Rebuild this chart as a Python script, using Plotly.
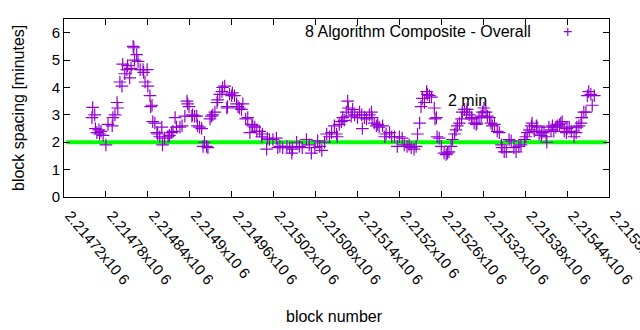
import plotly.graph_objects as go

BASE = 2214720
# block offsets (block number - 2214720) and block spacing in minutes
block_offset = [41, 40, 44, 45, 47, 50, 51, 53, 56, 60, 63, 69, 70, 73, 76, 77, 80, 83, 84, 87,
                90, 91, 94, 96, 99, 100, 101, 104, 106, 109, 113, 114, 116, 119, 120, 123, 124, 126, 127, 130,
                133, 134, 137, 140, 141, 144, 149, 151, 154, 156, 159, 161, 166, 169, 173, 176, 177, 179, 183, 184,
                187, 190, 191, 194, 197, 199, 201, 204, 206, 209, 211, 213, 216, 219, 220, 223, 226, 227, 230, 233,
                234, 237, 240, 241, 244, 247, 249, 251, 254, 256, 260, 263, 266, 269, 270, 273, 276, 280, 283, 284,
                290, 291, 294, 299, 304, 306, 309, 313, 319, 323, 326, 327, 333, 337, 341, 347, 351, 354, 359, 363,
                366, 369, 373, 376, 380, 383, 387, 390, 391, 394, 397, 399, 401, 404, 406, 407, 411, 413, 416, 420,
                423, 426, 427, 430, 433, 437, 440, 441, 444, 447, 449, 451, 456, 459, 461, 466, 469, 473, 477, 480,
                484, 487, 491, 494, 497, 501, 504, 506, 509, 511, 513, 516, 519, 520, 523, 526, 530, 531, 533, 534,
                537, 540, 544, 547, 549, 551, 554, 556, 559, 561, 563, 566, 569, 570, 573, 576, 577, 580, 583, 584,
                587, 590, 591, 594, 597, 599, 601, 604, 606, 609, 611, 613, 616, 620, 623, 626, 627, 630, 633, 637,
                640, 644, 647, 651, 654, 659, 661, 663, 666, 669, 670, 673, 676, 677, 680, 683, 684, 687, 690, 691,
                694, 697, 699, 701, 704, 706, 709, 711, 713, 716, 719, 720, 723, 726, 730, 733, 734, 737, 740, 741,
                744, 747, 749, 751, 754, 756, 759]
spacing_min = [3.27, 2.9, 3.0, 2.5, 2.35, 2.45, 2.3, 2.4, 2.25, 1.9, 2.65, 2.6, 2.9, 3.0, 3.45, 3.25, 4.2, 4.05, 4.85, 4.5,
               4.65, 4.8, 4.35, 4.7, 5.5, 5.45, 5.0, 5.2, 4.95, 4.65, 4.65, 4.55, 4.2, 4.65, 4.05, 3.7, 3.3, 3.35, 2.75, 2.7,
               2.35, 2.3, 2.2, 2.55, 1.9, 2.15, 2.2, 2.25, 2.35, 2.4, 2.9, 2.55, 2.55, 2.6, 2.95, 3.5, 3.4, 3.3, 2.95, 3.0,
               2.95, 2.95, 2.6, 2.55, 2.5, 1.85, 2.0, 1.85, 1.8, 2.85, 2.95, 3.0, 3.1, 3.45, 3.55, 3.75, 3.85, 4.0, 4.05, 3.25,
               3.3, 3.75, 3.7, 3.8, 3.7, 3.4, 3.3, 3.25, 3.2, 3.4, 2.85, 2.9, 2.35, 2.65, 2.6, 2.55, 2.4, 2.4, 2.2, 2.3,
               1.75, 2.15, 2.1, 2.1, 2.15, 1.8, 1.85, 1.8, 1.85, 1.8, 1.6, 1.75, 2.0, 1.85, 1.8, 2.1, 1.9, 1.6, 1.8, 2.05,
               1.85, 1.7, 2.0, 2.3, 2.2, 2.35, 2.6, 2.3, 2.2, 2.65, 2.75, 2.9, 2.8, 3.1, 3.5, 3.25, 2.95, 3.2, 3.0, 2.9,
               3.1, 3.0, 2.5, 2.9, 2.85, 3.0, 3.1, 2.9, 2.7, 2.6, 2.65, 2.55, 2.6, 2.2, 2.3, 2.35, 2.2, 2.2, 1.85, 2.2,
               2.15, 1.9, 1.85, 1.9, 1.8, 1.75, 1.85, 2.3, 2.7, 3.3, 3.6, 3.45, 3.85, 3.75, 3.7, 3.65, 3.25, 2.85, 2.9, 2.2,
               2.15, 1.85, 1.6, 1.55, 1.6, 1.65, 1.85, 2.1, 2.3, 2.45, 2.6, 2.7, 2.85, 3.1, 3.2, 3.1, 3.2, 3.0, 2.9, 2.85,
               2.7, 2.65, 2.7, 2.9, 2.95, 3.1, 3.25, 3.1, 2.95, 2.9, 2.7, 2.6, 2.65, 2.4, 2.35, 1.9, 1.8, 1.65, 1.65, 2.1,
               2.05, 1.8, 1.65, 1.85, 1.9, 2.1, 2.2, 2.35, 2.45, 2.6, 2.7, 2.4, 2.6, 2.55, 2.3, 2.25, 2.35, 2.4, 2.2, 2.0,
               2.55, 2.45, 2.6, 2.4, 2.55, 2.6, 2.65, 2.7, 2.75, 2.4, 2.35, 2.5, 2.55, 2.4, 2.2, 2.35, 2.55, 2.6, 2.7, 2.9,
               3.1, 3.1, 3.7, 3.85, 3.75, 3.35, 3.7]
blocks = [BASE + o for o in block_offset]

tick_vals = [BASE + 60 * i for i in range(14)]
tick_text = ["2.21472x10 6", "2.21478x10 6", "2.21484x10 6", "2.2149x10 6", "2.21496x10 6",
             "2.21502x10 6", "2.21508x10 6", "2.21514x10 6", "2.2152x10 6", "2.21526x10 6",
             "2.21532x10 6", "2.21538x10 6", "2.21544x10 6", "2.2155x10 6"]
target_minutes = 2
x_min, x_max = BASE, BASE + 780

FONT = "Liberation Sans, Arial, sans-serif"
FS = 16
TFS = 15
PURPLE = "#9400d3"
PW, PH = 545, 178  # plot area size in px

fig = go.Figure()
fig.add_trace(go.Scatter(
    x=[x_min + 3, x_max - 3], y=[target_minutes, target_minutes], mode="lines",
    line=dict(color="#00ff00", width=4), showlegend=False, hoverinfo="skip"))
fig.add_trace(go.Scatter(
    x=blocks, y=spacing_min, mode="markers",
    marker=dict(symbol="cross-thin", size=9, color=PURPLE, line=dict(color=PURPLE, width=1.2)),
    showlegend=False))

fig.add_annotation(xref="paper", yref="paper", x=(533 - 64) / PW, y=(197 - 32) / PH,
                   text="8 Algorithm Composite - Overall", showarrow=False,
                   xanchor="right", yanchor="middle", font=dict(family=FONT, size=FS, color="#000"))
fig.add_annotation(xref="paper", yref="paper", x=(567 - 64) / PW, y=(197 - 32) / PH,
                   text="+", showarrow=False, xanchor="center", yanchor="middle",
                   font=dict(family=FONT, size=FS, color=PURPLE))
fig.add_annotation(x=BASE + 547, y=3.53, text="2 min", showarrow=False,
                   xanchor="left", yanchor="middle", font=dict(family=FONT, size=FS, color="#000"))
fig.add_annotation(xref="paper", yref="paper", x=(18 - 64) / PW, y=(197 - 108) / PH,
                   text="block spacing [minutes]", textangle=-90, showarrow=False,
                   xanchor="center", yanchor="middle", font=dict(family=FONT, size=FS, color="#000"))
fig.add_annotation(xref="paper", yref="paper", x=(334 - 64) / PW, y=(197 - 316) / PH,
                   text="block number", showarrow=False,
                   xanchor="center", yanchor="middle", font=dict(family=FONT, size=FS, color="#000"))

axis_common = dict(showline=True, linecolor="black", linewidth=1, mirror="ticks",
                   ticks="inside", ticklen=6, tickcolor="black", showgrid=False, zeroline=False,
                   automargin=False, tickfont=dict(family=FONT, size=TFS, color="#000"))
fig.update_xaxes(range=[x_min, x_max + 0.01], tickvals=tick_vals, ticktext=tick_text, tickangle=50,
                 ticklabelshift=6, ticklabelstandoff=3, ticklabeloverflow="allow", **axis_common)
fig.update_yaxes(range=[0, 6.5], tickvals=[0, 1, 2, 3, 4, 5, 6], **axis_common)
fig.update_layout(width=640, height=330, margin=dict(l=64, r=31, t=19, b=133),
                  plot_bgcolor="white", paper_bgcolor="white", showlegend=False)
fig.write_html("out.html")
